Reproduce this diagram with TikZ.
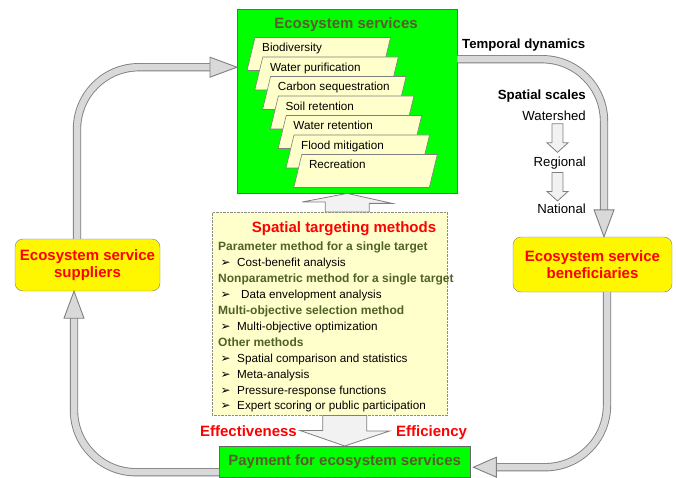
\documentclass[tikz,border=0pt]{standalone}
\usepackage{fontspec}
\setmainfont{Liberation Sans}
\newfontfamily\symfont{DejaVu Sans}

\definecolor{esgreen}{HTML}{00FF00}
\definecolor{supyellow}{HTML}{FFF700}
\definecolor{paleyellow}{HTML}{FFFFCC}
\definecolor{olivetext}{HTML}{5C5A2E}
\definecolor{headgreen}{HTML}{4F6228}
\definecolor{shaftgray}{HTML}{D9D9D9}
\definecolor{hollowgray}{HTML}{F2F2F2}
\definecolor{edgegray}{HTML}{7F7F7F}

\begin{document}
\begin{tikzpicture}[x=1pt, y=-1pt,
    txt/.style={inner sep=0pt, font=\fontsize{#1}{#1}\selectfont},
    btxt/.style={inner sep=0pt, font=\bfseries\fontsize{#1}{#1}\selectfont},
    shaft/.style={draw=edgegray, line width=0.9pt, double=shaftgray,
                  double distance=6.5pt, rounded corners=62pt},
    headtip/.style={draw=edgegray, fill=shaftgray, line width=0.9pt},
    hollow/.style={draw=edgegray, fill=hollowgray, line width=0.8pt}]
    \useasboundingbox (0,0) rectangle (676,478);

    % ecosystem services
    \node[draw=black!60, fill=esgreen, minimum width=220, minimum height=184,
          inner sep=0pt, anchor=north west] (es) at (237,9) {};
    \node[btxt=15, text=olivetext, anchor=base] (estitle) at (346,28.5) {Ecosystem services};
    \foreach \txt [count=\i] in {Biodiversity, Water purification, Carbon sequestration,
        Soil retention, Water retention, Flood mitigation, Recreation} {
      \filldraw[draw=edgegray, fill=paleyellow, line width=0.6pt]
        ({255+7.8*(\i-1)},{37.5+19.5*(\i-1)}) -- ++(135.5,0) -- ++(-8,33)
        -- ++(-135.5,0) -- cycle;
      \node[txt=11.7, anchor=base west] (s\i) at ({262+7.8*(\i-1)},{52+19.5*(\i-1)}) {\txt};
    }

    % spatial targeting methods
    \node[draw=black!45, densely dotted, fill=paleyellow, minimum width=235,
          minimum height=203, inner sep=0pt, anchor=north west] (stm) at (212,212) {};
    \node[btxt=15, text=red, anchor=base] (stmtitle) at (344,232) {Spatial targeting methods};
    \foreach \y/\txt [count=\i] in {250/Parameter method for a single target,
        282/Nonparametric method for a single target,
        314/Multi-objective selection method, 346/Other methods}
      \node[btxt=12, text=headgreen, anchor=base west] (h\i) at (218,\y) {\txt};
    \foreach \y/\txt [count=\i] in {266/Cost-benefit analysis,
        298/\hspace*{4pt}Data envelopment analysis, 330/Multi-objective optimization,
        362/Spatial comparison and statistics, 378/Meta-analysis,
        394/Pressure-response functions, 409/Expert scoring or public participation} {
      \node[inner sep=0pt, font=\symfont\fontsize{12}{12}\selectfont, anchor=base west] (b\i) at (220.5,\y) {➢};
      \node[txt=11.7, anchor=base west] (i\i) at (237,\y) {\txt};
    }

    % payment
    \node[draw=black!60, fill=esgreen, minimum width=251, minimum height=31,
          inner sep=0pt, anchor=north west, text=olivetext,
          font=\bfseries\fontsize{15}{15}\selectfont] (pay) at (219,446) {Payment for ecosystem services};
    \node[btxt=15, text=red, anchor=base east] (effect) at (297,436) {Effectiveness};
    \node[btxt=15, text=red, anchor=base west] (effic) at (396,436) {Efficiency};

    % suppliers and beneficiaries
    \node[draw=edgegray, fill=supyellow, rounded corners=8pt, minimum width=145,
          minimum height=52, align=center, text=red,
          font=\bfseries\fontsize{15}{17}\selectfont] (sup) at (87.5,265) {Ecosystem service\\suppliers};
    \node[draw=edgegray, fill=supyellow, rounded corners=8pt, minimum width=159,
          minimum height=55, align=center, text=red,
          font=\bfseries\fontsize{15}{17}\selectfont] (ben) at (592.5,264.5) {Ecosystem service\\beneficiaries};

    % scales
    \node[btxt=13.2, anchor=base west] (tdyn) at (462,48.5) {Temporal dynamics};
    \node[btxt=13.3, anchor=base east] (sscale) at (586,99.5) {Spatial scales};
    \node[txt=13.2, anchor=base east] (ws) at (586,120.5) {Watershed};
    \node[txt=13.2, anchor=base east] (rg) at (586,166.5) {Regional};
    \node[txt=13.2, anchor=base east] (nat) at (586,213.5) {National};
    \coordinate (sc) at (557.5,0);
    \foreach \n in {ws, rg}
      \filldraw[hollow] ([xshift=-5.5pt,yshift=-3pt]sc |- \n.south) -- ++(0,19) -- ++(-5,0)
        -- ++(10.5,9.5) -- ++(10.5,-9.5) -- ++(-5,0) -- ++(0,-19) -- cycle;

    % hollow arrows of the methods
    \filldraw[hollow] ([xshift=-22pt]es.south |- stm.north) -- ++(0,-10) -- ++(-23,0)
      -- (es.south) -- ++(45,10) -- ++(-23,0) -- ([xshift=22pt]es.south |- stm.north) -- cycle;
    \filldraw[hollow] ([xshift=-22pt]pay.north |- stm.south) -- ++(0,15) -- ++(-23,0)
      -- (pay.north) -- ++(45,-15) -- ++(-23,0) -- ([xshift=22pt]pay.north |- stm.south) -- cycle;

    % cycle arrows
    \draw[shaft] ([xshift=-10.5pt]sup.north) |- ([xshift=-25pt,yshift=34pt]es.west);
    \filldraw[headtip] ([yshift=34pt]es.west) -- ++(-27,-10) -- ++(0,20) -- cycle;
    \draw[shaft] ([yshift=42pt]es.east) -| ([xshift=11.5pt,yshift=27pt]ben.north);
    \filldraw[headtip] ([xshift=11.5pt]ben.north) -- ++(-10,-27) -- ++(20,0) -- cycle;
    \draw[shaft] ([xshift=14.5pt]ben.south) |- ([xshift=23pt,yshift=-5.5pt]pay.east);
    \filldraw[headtip] ([xshift=3pt,yshift=-5.5pt]pay.east) -- ++(23,-10) -- ++(0,20) -- cycle;
    \draw[shaft] ([yshift=-10.5pt]pay.west) -| ([xshift=-13.5pt,yshift=-27pt]sup.south);
    \filldraw[headtip] ([xshift=-13.5pt]sup.south) -- ++(-10,27) -- ++(20,0) -- cycle;
\end{tikzpicture}
\end{document}
